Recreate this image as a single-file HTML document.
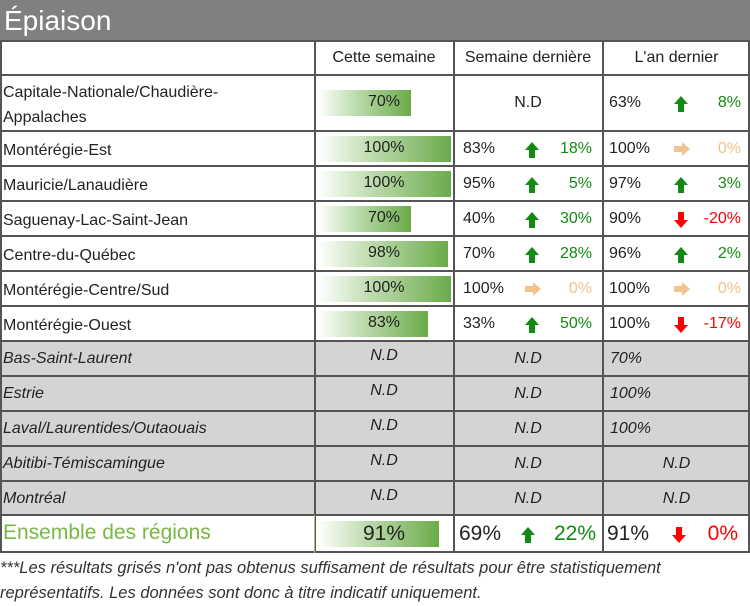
<!DOCTYPE html>
<html><head><meta charset="utf-8"><style>
*{margin:0;padding:0;box-sizing:border-box}
body{width:750px;height:606px;background:#fff;font-family:"Liberation Sans",sans-serif;color:#222;position:relative;overflow:hidden}
.a{position:absolute}
.title{left:0;top:0;width:750px;height:41px;background:#808080;color:#fff;font-size:28px;line-height:41px;padding-left:4px}
.row{position:absolute;left:0;width:750px;font-size:16px}
.g{background:#d4d4d4;font-style:italic}
.hl{position:absolute;left:0;width:750px;height:2px;background:#555}
.vl{position:absolute;width:2px;background:#555}
.bar{position:absolute;left:318px;background:linear-gradient(90deg,#fff 0%,#c6e0b8 35%,#6aab4a 100%)}
.c{position:absolute;text-align:center}
.up{color:#138a13}.dn{color:#f00}.eq{color:#f0c28c}
</style></head><body>
<div class="a title">Épiaison</div>

<div class="row g" style="top:341px;height:174px"></div>

<div class="c" style="left:315px;width:138px;top:49px;font-size:16px">Cette semaine</div>
<div class="c" style="left:453px;width:150px;top:49px;font-size:16px">Semaine dernière</div>
<div class="c" style="left:603px;width:147px;top:49px;font-size:16px">L'an dernier</div>

<div id="rows"></div>

<div class="a" style="left:0;top:556px;font-size:16.5px;font-style:italic;line-height:25px;width:712px;color:#333">***Les résultats grisés n'ont pas obtenus suffisament de résultats pour être statistiquement représentatifs. Les données sont donc à titre indicatif uniquement.</div>

<script>
const up='<svg width="14" height="16" viewBox="0 0 14 16"><polygon points="7,0 14,8 10,8 10,16 4,16 4,8 0,8" fill="#138a13"/></svg>';
const dn='<svg width="14" height="16" viewBox="0 0 14 16"><polygon points="7,16 14,8 10,8 10,0 4,0 4,8 0,8" fill="#f00"/></svg>';
const eq='<svg width="16" height="14" viewBox="0 0 16 14"><polygon points="16,7 8,0 8,4 0,4 0,10 8,10 8,14" fill="#f0c28c"/></svg>';
const A={u:[up,'up'],d:[dn,'dn'],e:[eq,'eq']};
const R=[
['Capitale-Nationale/Chaudière-<br>Appalaches',75,56,70,null,['63%','u','8%']],
['Montérégie-Est',131,35,100,['83%','u','18%'],['100%','e','0%']],
['Mauricie/Lanaudière',166,35,100,['95%','u','5%'],['97%','u','3%']],
['Saguenay-Lac-Saint-Jean',201,35,70,['40%','u','30%'],['90%','d','-20%']],
['Centre-du-Québec',236,35,98,['70%','u','28%'],['96%','u','2%']],
['Montérégie-Centre/Sud',271,35,100,['100%','e','0%'],['100%','e','0%']],
['Montérégie-Ouest',306,35,83,['33%','u','50%'],['100%','d','-17%']],
];
let h='';
function trio(x,v,top,hgt,fs,w){
 const [a,k,p]=v;const [svg,cl]=A[k];const ly=top+hgt/2;
 return `<div class="a" style="left:${x}px;top:${ly-fs*0.6+1}px;font-size:${fs}px">${a}</div>
 <div class="a" style="left:${x+(w>100?62:65)}px;top:${ly-7}px;height:16px">${svg}</div>
 <div class="a ${cl}" style="right:${w}px;top:${ly-fs*0.6+1}px;font-size:${fs}px;text-align:right">${p}</div>`;
}
R.forEach(r=>{
 const [n,t,hh,pc,w,y]=r;const m=t+hh/2;
 h+=`<div class="a" style="left:3px;top:${m-(hh>40?23:11)}px;font-size:16px;line-height:25px">${n}</div>`;
 h+=`<div class="bar" style="top:${m-13}px;height:26px;width:${Math.round(133*pc/100)}px"></div>`;
 h+=`<div class="c" style="left:315px;width:138px;top:${m-10}px;font-size:16px">${pc}%</div>`;
 if(w) h+=trio(463,w,t,hh,16,158); else h+=`<div class="c" style="left:453px;width:150px;top:${m-9}px;font-size:16px">N.D</div>`;
 h+=trio(609,y,t,hh,16,9);
});
const G=[['Bas-Saint-Laurent','70%'],['Estrie','100%'],['Laval/Laurentides/Outaouais','100%'],['Abitibi-Témiscamingue',null],['Montréal',null]];
G.forEach((g,i)=>{const m=341+i*35+17;
 h+=`<div class="a" style="left:3px;top:${m-8}px;font-size:16px;font-style:italic">${g[0]}</div>`;
 h+=`<div class="c" style="left:315px;width:138px;top:${m-11}px;font-size:16px;font-style:italic">N.D</div>`;
 h+=`<div class="c" style="left:453px;width:150px;top:${m-8}px;font-size:16px;font-style:italic">N.D</div>`;
 if(g[1]) h+=`<div class="a" style="left:610px;top:${m-8}px;font-size:16px;font-style:italic">${g[1]}</div>`;
 else h+=`<div class="c" style="left:603px;width:147px;top:${m-8}px;font-size:16px;font-style:italic">N.D</div>`;
});
h+=`<div class="a" style="left:3px;top:521px;font-size:21px;color:#7ab648">Ensemble des régions</div>`;
h+=`<div class="bar" style="top:521px;height:26px;width:121px"></div>`;
h+=`<div class="c" style="left:315px;width:138px;top:522px;font-size:21px">91%</div>`;
h+=trio(459,['69%','u','22%'],515,38,21,154);
h+=trio(607,['91%','d','0%'],515,38,21,12);
[41,75,131,166,201,236,271,306,341,376,411,446,481,515,552].forEach(y=>h+=`<div class="hl" style="top:${y-1}px"></div>`);
[0,314,453,602,748].forEach(x=>h+=`<div class="vl" style="left:${x}px;top:41px;height:512px"></div>`);
h+=`<div class="vl" style="left:314px;top:515px;height:38px;background:#9ccc7c;width:1px"></div>`;
document.getElementById('rows').innerHTML=h;
</script>
</body></html>
